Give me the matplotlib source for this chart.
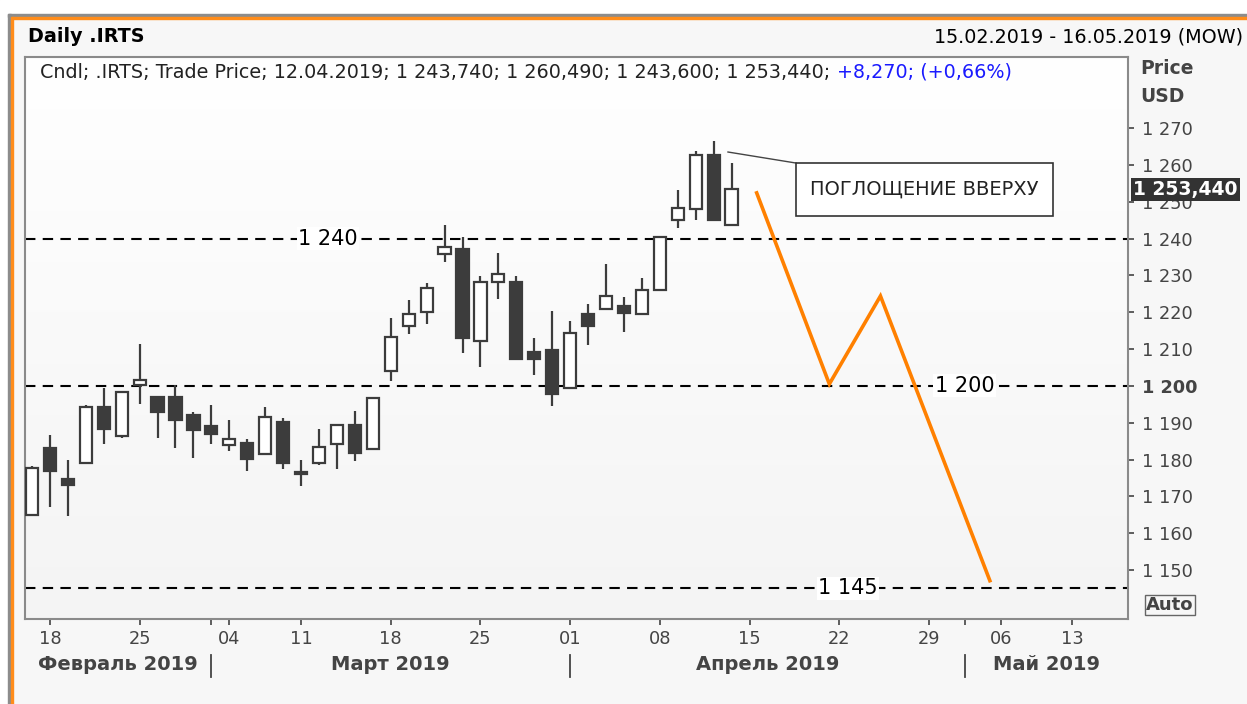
import numpy as np
import pandas as pd
import matplotlib
matplotlib.use("Agg")
import matplotlib.pyplot as plt
import matplotlib.transforms as mtransforms
from matplotlib.patches import Rectangle
from matplotlib.colors import LinearSegmentedColormap

plt.rcParams['font.family'] = ['DejaVu Sans']

# торговые дни 15.02.2019 - 16.05.2019 (праздники биржи убраны)
holidays = ["2019-03-08", "2019-05-01", "2019-05-09"]
days = [d for d in pd.bdate_range("2019-02-15", "2019-05-16")
        if d.strftime("%Y-%m-%d") not in holidays]

opens = [1165.0, 1183.1, 1174.7, 1179.1, 1194.2, 1186.3, 1200.2, 1196.9, 1196.9, 1192.2,
         1189.1, 1183.9, 1184.5, 1181.6, 1190.1, 1176.6, 1179.1, 1184.3, 1189.4, 1182.8,
         1204.0, 1216.3, 1220.0, 1235.9, 1237.1, 1212.2, 1228.2, 1228.2, 1209.1, 1209.7,
         1199.4, 1219.5, 1221.0, 1221.6, 1219.5, 1226.0, 1245.0, 1248.1, 1262.7, 1243.74]
highs = [1178.2, 1186.7, 1179.9, 1194.8, 1199.5, 1198.4, 1211.3, 1196.9, 1200.2, 1192.8,
         1194.8, 1190.7, 1185.6, 1194.3, 1191.2, 1179.9, 1188.3, 1189.4, 1193.2, 1196.7,
         1218.5, 1223.4, 1227.8, 1243.7, 1240.3, 1229.8, 1236.1, 1229.8, 1213.0, 1220.2,
         1217.5, 1222.2, 1233.0, 1224.2, 1229.2, 1240.5, 1253.1, 1263.8, 1266.5, 1260.49]
lows = [1165.0, 1167.2, 1164.6, 1179.1, 1184.2, 1185.8, 1195.0, 1185.8, 1183.2, 1180.5,
        1184.2, 1182.2, 1176.9, 1181.6, 1177.5, 1172.8, 1178.6, 1177.5, 1179.6, 1182.8,
        1201.2, 1214.0, 1216.8, 1233.7, 1208.8, 1205.0, 1223.5, 1207.3, 1203.0, 1194.6,
        1199.4, 1211.1, 1221.0, 1214.6, 1219.5, 1226.0, 1242.8, 1245.0, 1245.17, 1243.6]
closes = [1177.7, 1176.9, 1173.2, 1194.2, 1188.4, 1198.4, 1201.5, 1192.9, 1190.8, 1188.0,
          1186.9, 1185.6, 1180.1, 1191.6, 1179.0, 1176.0, 1183.4, 1189.4, 1181.7, 1196.7,
          1213.3, 1219.5, 1226.6, 1237.6, 1213.1, 1228.2, 1230.3, 1207.3, 1207.3, 1197.7,
          1214.3, 1216.2, 1224.4, 1219.9, 1226.1, 1240.3, 1248.2, 1262.7, 1245.17, 1253.44]

# прогноз (оранжевая линия): индекс торгового дня и цена
path_x = [40.4, 44.45, 47.3, 53.4]
path_y = [1252.4, 1200.5, 1224.4, 1147.1]

levels = [1240, 1200, 1145]
level_labels = ["1 240", "1 200", "1 145"]
level_label_x = [16.5, 52.0, 45.5]

yticks = list(range(1150, 1271, 10))
last_price = 1253.44

W, H = 1247, 704
fig = plt.figure(figsize=(W / 100, H / 100), dpi=100, facecolor='#f7f7f7')

# рамка окна
fig.patches.append(Rectangle((0, 1 - 14 / H), 1, 14 / H, transform=fig.transFigure, color='white', zorder=-5))
fig.patches.append(Rectangle((0, 0), 8 / W, 1, transform=fig.transFigure, color='white', zorder=-5))
fig.patches.append(Rectangle((8 / W, 1 - 17 / H), 1, 3 / H, transform=fig.transFigure, color='#8c8c8c', zorder=-4))
fig.patches.append(Rectangle((11 / W, 1 - 19 / H), 1, 2 / H, transform=fig.transFigure, color='#ff8c1a', zorder=-4))
fig.patches.append(Rectangle((8 / W, 0), 3 / W, 1 - 14 / H, transform=fig.transFigure, color='#8c8c8c', zorder=-4))
fig.patches.append(Rectangle((11 / W, 0), 2 / W, 1 - 17 / H, transform=fig.transFigure, color='#ff8c1a', zorder=-4))

ax = fig.add_axes([25 / W, 1 - 619 / H, (1128 - 25) / W, (619 - 57) / H])
ax.set_facecolor('white')
grad = LinearSegmentedColormap.from_list('g', ['#f4f4f4', '#ffffff'])
ax.imshow(np.linspace(0, 1, 256).reshape(-1, 1), cmap=grad, aspect='auto',
          extent=[0, 1, 0, 1], transform=ax.transAxes, zorder=0, origin='lower')

dark = '#3c3c3c'
x = np.arange(len(opens))
o = np.array(opens); c = np.array(closes)
ax.vlines(x, lows, highs, color=dark, lw=1.6, zorder=3)
bottom = np.minimum(o, c)
height = np.maximum(np.abs(c - o), 0.6)
colors = [dark if cc < oo else 'white' for oo, cc in zip(o, c)]
ax.bar(x, height, bottom=bottom, width=0.68, color=colors, edgecolor=dark, linewidth=1.6, zorder=4)

# уровни
for lv, lab, lx in zip(levels, level_labels, level_label_x):
    ax.axhline(lv, color='black', lw=1.5, ls=(0, (5, 3.5)), zorder=2)
    ax.text(lx, lv, lab, ha='center', va='center', fontsize=15, color='black', zorder=5,
            bbox=dict(facecolor='white', edgecolor='none', pad=1))

ax.plot(path_x, path_y, color='#ff8000', lw=2.6, zorder=6, solid_joinstyle='miter')

# подпись паттерна
ax.plot([38.8, 42.6], [1263.5, 1260.5], color='#444444', lw=1, zorder=5)
ax.add_patch(Rectangle((42.6, 1246.1), 14.3, 14.4, facecolor='white', edgecolor='#333333', lw=1.2, zorder=6))
ax.text(49.75, 1253.3, "ПОГЛОЩЕНИЕ ВВЕРХУ", ha='center', va='center', fontsize=14, color='#222222', zorder=7)

ax.set_xlim(-0.39, 61.1)
ax.set_ylim(1136.7, 1289.3)

# ось Y справа
ax.yaxis.tick_right()
ax.set_yticks(yticks, [f"1 {v - 1000:03d}" for v in yticks])
ax.tick_params(axis='y', length=4, width=1.2, color='#444444', labelsize=12.8, labelcolor='#444444', pad=6)
for t in ax.get_yticklabels():
    if t.get_text() == "1 200":
        t.set_fontweight('bold')

# ось X: понедельники и границы месяцев
tick_pos, tick_lab, seps = [], [], []
prev_month = None
for i, d in enumerate(days):
    if prev_month is not None and d.month != prev_month:
        seps.append(i)
    prev_month = d.month
    if d.weekday() == 0:
        tick_pos.append(i); tick_lab.append(d.strftime("%d"))
for s in seps:
    if s not in tick_pos:
        tick_pos.append(s); tick_lab.append("")
ax.set_xticks(tick_pos, tick_lab)
ax.tick_params(axis='x', length=4, width=1.2, color='#444444', labelsize=12.8, labelcolor='#444444', pad=4)

months = ["Февраль 2019", "Март 2019", "Апрель 2019", "Май 2019"]
bounds = [-0.39] + seps + [61.1]
trans = mtransforms.blended_transform_factory(ax.transData, fig.transFigure)
for k, m in enumerate(months):
    ax.text((bounds[k] + bounds[k + 1]) / 2, 1 - 664 / H, m, transform=trans, ha='center', va='center',
            fontsize=14, fontweight='bold', color='#444444')
for s in seps:
    ax.plot([s, s], [1 - 655 / H, 1 - 677 / H], transform=trans, color='#444444', lw=1.3, clip_on=False)

for sp in ax.spines.values():
    sp.set_color('#8a8a8a'); sp.set_linewidth(1.5)

# шапка
fig.text(28 / W, 1 - 37 / H, "Daily .IRTS", fontsize=13.8, fontweight='bold', color='black', va='center')
fig.text(1243 / W, 1 - 37 / H, "15.02.2019 - 16.05.2019 (MOW)", fontsize=13.8, color='black', va='center', ha='right')
t1 = ax.text(0.014, 0.973, "Cndl; .IRTS; Trade Price; 12.04.2019; 1 243,740; 1 260,490; 1 243,600; 1 253,440; ",
             transform=ax.transAxes, fontsize=13.8, color='#222222', va='center', zorder=7)
ax.annotate("+8,270; (+0,66%)", xy=(1, 0.5), xycoords=t1, va='center', fontsize=13.8, color='#1a1aff', zorder=7)

fig.text(1140 / W, 1 - 68 / H, "Price", fontsize=13.5, fontweight='bold', color='#444444', va='center')
fig.text(1140 / W, 1 - 97 / H, "USD", fontsize=13.5, fontweight='bold', color='#444444', va='center')

ytrans = mtransforms.blended_transform_factory(fig.transFigure, ax.transData)
ax.text(1133 / W, last_price, "1 253,440", transform=ytrans, fontsize=13.5, fontweight='bold', color='white',
        va='center', ha='left', zorder=8, clip_on=False,
        bbox=dict(facecolor='#333333', edgecolor='none', pad=1.5))
fig.text(1146 / W, 1 - 605 / H, "Auto", fontsize=13, fontweight='bold', color='#444444', va='center',
         bbox=dict(facecolor='none', edgecolor='#666666', pad=1, lw=1))

fig.savefig("out.png", dpi=100, facecolor=fig.get_facecolor())
